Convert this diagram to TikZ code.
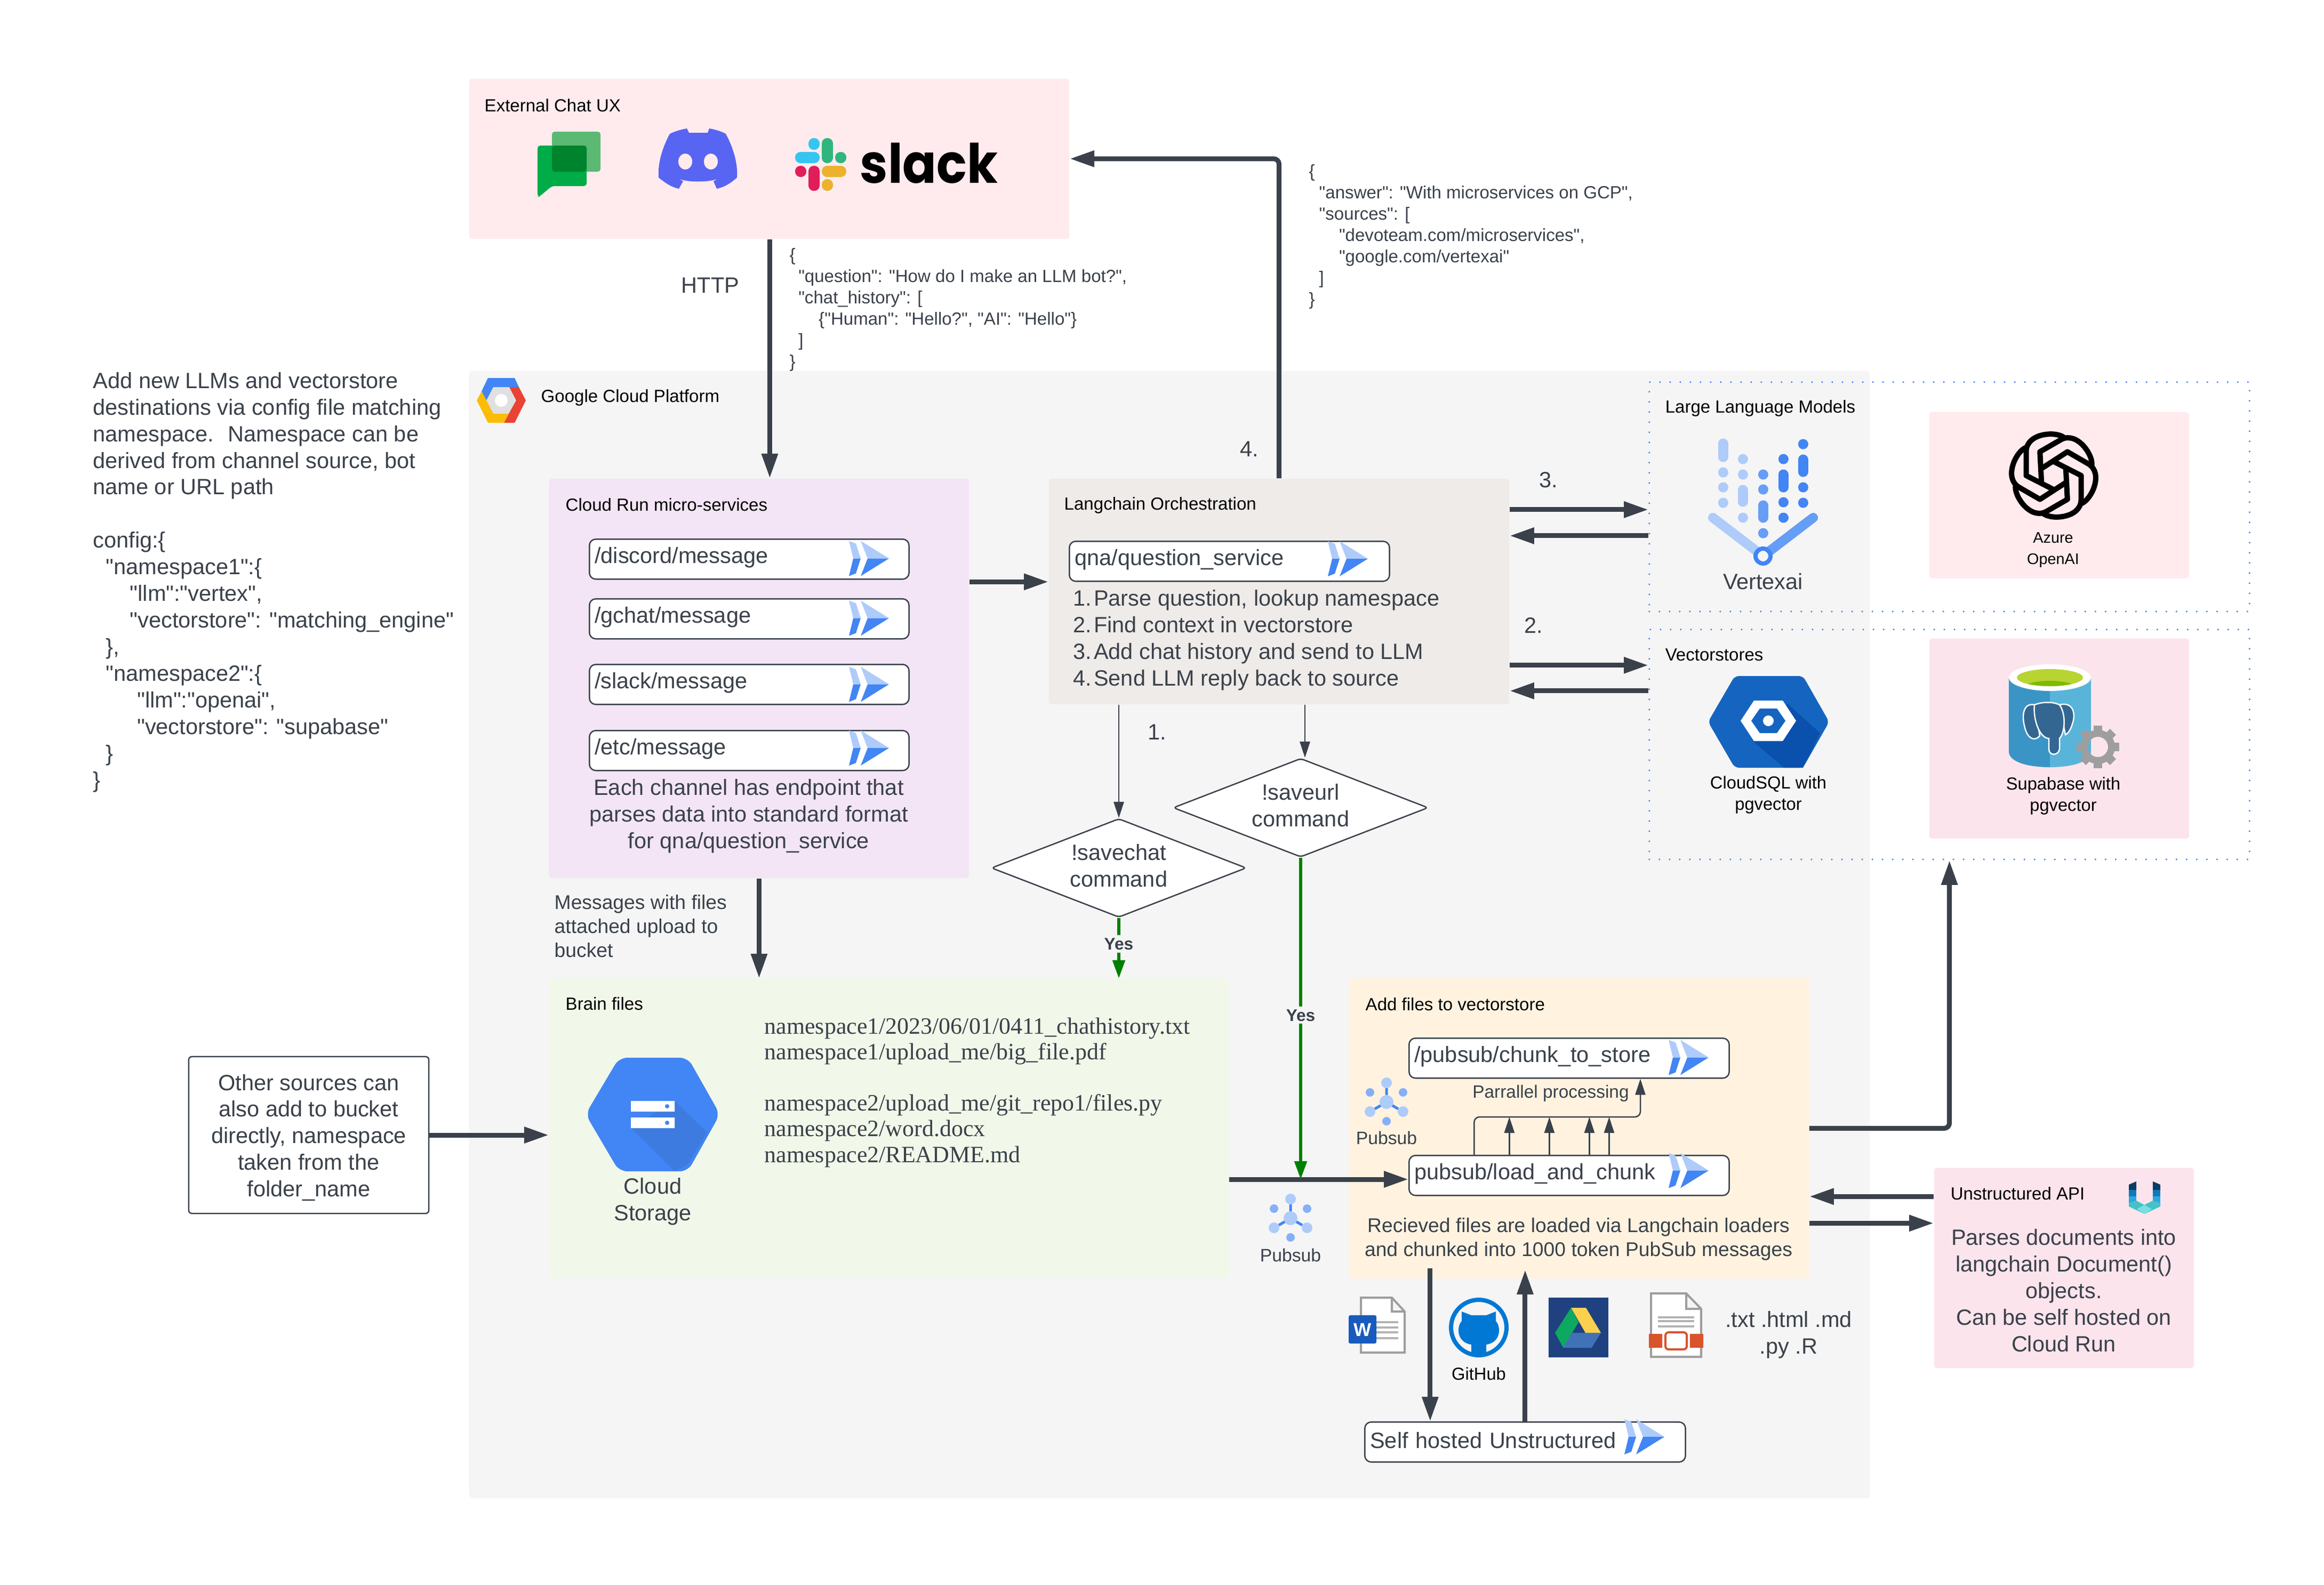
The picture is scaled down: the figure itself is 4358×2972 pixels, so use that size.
\documentclass[tikz,border=0pt]{standalone}
\usepackage{fontspec}
\setmainfont{Liberation Sans}[Ligatures=TeXOff]
\newfontfamily\pathfont{Liberation Serif}
\newfontfamily\slackfont{Poppins}
\usetikzlibrary{arrows.meta,shapes.geometric}

\definecolor{ink}{HTML}{3A414A}
\definecolor{gcpfill}{HTML}{F5F5F5}
\definecolor{chatfill}{HTML}{FFEBEE}
\definecolor{crunfill}{HTML}{F3E5F5}
\definecolor{langfill}{HTML}{EFEBE9}
\definecolor{brainfill}{HTML}{F1F8E9}
\definecolor{addfill}{HTML}{FFF3E0}
\definecolor{supafill}{HTML}{FCE4EC}
\definecolor{gblue}{HTML}{4285F4}
\definecolor{gmid}{HTML}{669DF6}
\definecolor{glight}{HTML}{AECBFA}
\definecolor{gsoft}{HTML}{85B0F8}
\definecolor{yesgreen}{HTML}{008000}
\definecolor{chatback}{HTML}{5BB974}
\definecolor{chatfront}{HTML}{00AC47}
\definecolor{chatover}{HTML}{00832D}
\definecolor{blurple}{HTML}{5865F2}
\definecolor{slackblue}{HTML}{36C5F0}
\definecolor{slackgreen}{HTML}{2EB67D}
\definecolor{slackred}{HTML}{E01E5A}
\definecolor{slackyellow}{HTML}{ECB22E}
\definecolor{gcpgray}{HTML}{E0E0E0}
\definecolor{gcpred}{HTML}{EA4335}
\definecolor{gcpyellow}{HTML}{FBBC05}
\definecolor{sqlblue}{HTML}{1565C0}
\definecolor{sqldark}{HTML}{0A50AD}
\definecolor{cyldark}{HTML}{3A95C6}
\definecolor{cyllight}{HTML}{59B4D9}
\definecolor{cyltop}{HTML}{B8D432}
\definecolor{cylinner}{HTML}{7FBA00}
\definecolor{pgblue}{HTML}{336791}
\definecolor{gearcol}{HTML}{9E9E9E}
\definecolor{storeshade}{HTML}{3D7BE0}
\definecolor{wordblue}{HTML}{185ABD}
\definecolor{ghblue}{HTML}{0078D4}
\definecolor{drivebg}{HTML}{1F4180}
\definecolor{driveyellow}{HTML}{FCD04F}
\definecolor{drivegreen}{HTML}{0DA960}
\definecolor{driveblue}{HTML}{4172B8}
\definecolor{docorange}{HTML}{D9532C}
\definecolor{unsdark}{HTML}{0A3D62}
\definecolor{unsmid}{HTML}{1279BE}
\definecolor{unssky}{HTML}{29A8E0}
\definecolor{unsteal}{HTML}{45C2C8}
\definecolor{unspale}{HTML}{7ADFE0}

\newcommand{\bodyfont}{\fontsize{11.8}{14.2}\selectfont}

\tikzset{
	panel/.style={rectangle,rounded corners=.05cm,anchor=north west,inner sep=0},
	dotbox/.style={rectangle,anchor=north west,inner sep=0,draw=gblue,line width=.035cm,line cap=round,dash pattern=on 0pt off .19cm},
	routebox/.style={rectangle,draw=ink,fill=white,line width=.025cm,rounded corners=.12cm,anchor=north west,inner xsep=.1cm,inner ysep=0,minimum height=.75cm,text=ink,align=left,font=\bodyfont,execute at end node={\vspace{.06cm}}},
	heading/.style={anchor=west,inner sep=0,text=black,font=\fontsize{9.4}{11.4}\selectfont},
	note/.style={inner sep=0,text=ink,align=center,font=\bodyfont},
	leftnote/.style={note,anchor=west,align=left},
	smallnote/.style={note,font=\fontsize{10.6}{12.8}\selectfont},
	jsontext/.style={leftnote,font=\fontsize{9.4}{11.4}\selectfont},
	iconlabel/.style={inner sep=0,text=black,align=center,font=\fontsize{9.3}{11.4}\selectfont},
	decision/.style={diamond,aspect=2.58,draw=ink,fill=white,line width=.025cm,inner sep=0,minimum width=4.78cm,minimum height=1.85cm,rounded corners=.06cm,text=ink,align=center,font=\bodyfont},
	yeslabel/.style={fill=gcpfill,inner xsep=.02cm,inner ysep=.05cm,text=ink,font=\bfseries\fontsize{9}{11}\selectfont},
	bigarrow/.style={draw=ink,line width=.09cm,rounded corners=.1cm,-{Triangle[length=.46cm,width=.29cm]}},
	thinarrow/.style={draw=ink,line width=.025cm,-{Triangle[length=.3cm,width=.19cm]}},
	greenarrow/.style={draw=yesgreen,line width=.055cm,-{Triangle[length=.34cm,width=.23cm]}},
	runicon/.pic={
		\fill[glight] (0,-33) -- (13,-28) -- (22,0) -- (8,0) -- cycle;
		\fill[gblue] (8,0) -- (22,0) -- (13,28) -- (0,33) -- cycle;
		\fill[glight] (22,-33) -- (75,0) -- (35,0) -- cycle;
		\fill[gblue] (35,0) -- (75,0) -- (22,33) -- cycle;
	},
	pubsubicon/.pic={
		\draw[gblue,line width=.05cm] (0,-26) -- (0,-13) (-22,13) -- (-10,6) (22,13) -- (10,6);
		\foreach \px/\py/\pr in {0/-36/10,0/0/13,-31/18/10,31/18/10}
			\fill[glight] (\px,\py) circle[radius=\pr];
		\foreach \px/\py in {-31/-18,31/-18,0/36}
			\fill[gsoft] (\px,\py) circle[radius=8];
	},
}

\begin{document}
\begin{tikzpicture}[x=.01cm,y=-.01cm]
	\useasboundingbox (0,0) rectangle (4358,2972);

	%Panels
	\node[panel,fill=gcpfill,minimum width=26.25cm,minimum height=21.13cm] (gcp) at (879,695) {};
	\node[panel,fill=chatfill,minimum width=11.25cm,minimum height=3cm] (extchat) at (879,147) {};
	\node[panel,fill=crunfill,minimum width=7.87cm,minimum height=7.49cm] (crun) at (1029,897) {};
	\node[panel,fill=langfill,minimum width=8.63cm,minimum height=4.23cm] (lang) at (1966,897) {};
	\node[panel,fill=brainfill,minimum width=12.74cm,minimum height=5.61cm] (brain) at (1029,1835) {};
	\node[panel,fill=addfill,minimum width=8.62cm,minimum height=5.63cm] (addfiles) at (2529,1834) {};
	\node[dotbox,minimum width=11.25cm,minimum height=4.3cm] (llmbox) at (3091,715) {};
	\node[dotbox,minimum width=11.25cm,minimum height=4.31cm] (vecbox) at (3091,1179) {};
	\node[panel,fill=chatfill,minimum width=4.87cm,minimum height=3.12cm] (azure) at (3617,772) {};
	\node[panel,fill=supafill,minimum width=4.87cm,minimum height=3.75cm] (supa) at (3617,1197) {};
	\node[panel,fill=supafill,minimum width=4.87cm,minimum height=3.75cm] (unapi) at (3626,2190) {};

	%Titles
	\node[heading] (chattitle) at (908,198) {External Chat UX};
	\node[heading] (gcptitle) at (1014,746) {Google Cloud Platform};
	\node[heading] (cruntitle) at (1060,947) {Cloud Run micro-services};
	\node[heading] (langtitle) at (1995,948) {Langchain Orchestration};
	\node[heading] (braintitle) at (1060,1883) {Brain files};
	\node[heading] (addtitle) at (2560,1884) {Add files to vectorstore};
	\node[heading] (llmtitle) at (3122,766) {Large Language Models};
	\node[heading] (vectitle) at (3122,1228) {Vectorstores};
	\node[heading] (unapititle) at (3657,2239) {Unstructured API};

	%Endpoints
	\foreach \rname/\ytop/\cy in {discord/1010/1047.5,gchat/1122/1159.5,slack/1245/1283.5,etc/1369/1403}{
		\node[routebox,minimum width=5.99cm,text width=5.79cm] (\rname) at (1104,\ytop) {/\rname/message};
		\pic at (1592,\cy) {runicon};
	}
	\node[routebox,minimum width=6cm,text width=5.8cm] (qna) at (2004,1014) {qna/question\_service};
	\pic at (2490,1048) {runicon};
	\node[routebox,minimum width=6cm,text width=5.8cm] (chunk) at (2641,1946) {/pubsub/chunk\_to\_store};
	\pic at (3129,1983.5) {runicon};
	\node[routebox,minimum width=6cm,text width=5.8cm] (load) at (2641,2166) {pubsub/load\_and\_chunk};
	\pic at (3129,2195.5) {runicon};
	\node[routebox,minimum width=6.01cm,text width=5.81cm] (selfhost) at (2558,2666) {Self hosted Unstructured};
	\pic at (3046,2695) {runicon};

	%Texts
	\node[leftnote] (confignote) at (174,1092) {Add new LLMs and vectorstore\\destinations via config file matching\\namespace.~ Namespace can be\\derived from channel source, bot\\name or URL path\\~\\config:\{\\
		\hspace*{6.9pt}"namespace1":\{\\
		\hspace*{19.7pt}"llm":"vertex",\\
		\hspace*{19.7pt}"vectorstore": "matching\_engine"\\
		\hspace*{6.9pt}\},\\
		\hspace*{6.9pt}"namespace2":\{\\
		\hspace*{23.5pt}"llm":"openai",\\
		\hspace*{23.5pt}"vectorstore": "supabase"\\
		\hspace*{6.9pt}\}\\\}};
	\node[note] (httplabel) at (1332,535) {HTTP};
	\node[jsontext] (askjson) at (1480,581) {\{\\
		\hspace*{4.7pt}"question": "How do I make an LLM bot?",\\
		\hspace*{4.7pt}"chat\_history": [\\
		\hspace*{15.5pt}\{"Human": "Hello?", "AI": "Hello"\}\\
		\hspace*{4.7pt}]\\\}};
	\node[jsontext] (answerjson) at (2454,444) {\{\\
		\hspace*{5.4pt}"answer": "With microservices on GCP",\\
		\hspace*{5.4pt}"sources": [\\
		\hspace*{16pt}"devoteam.com/microservices",\\
		\hspace*{16pt}"google.com/vertexai"\\
		\hspace*{5.4pt}]\\\}};
	\node[note] (crunnote) at (1404,1531) {Each channel has endpoint that\\parses data into standard format\\for qna/question\_service};
	\node[leftnote] (langnote) at (2012,1201) {1.\hspace{1.1pt}Parse question, lookup namespace\\2.\hspace{1.1pt}Find context in vectorstore\\3.\hspace{1.1pt}Add chat history and send to LLM\\4.\hspace{1.1pt}Send LLM reply back to source};
	\node[smallnote,anchor=west,align=left] (msgnote) at (1039,1737) {Messages with files\\attached upload to\\bucket};
	\node[smallnote] (addnote) at (2960,2324) {Recieved files are loaded via Langchain loaders\\and chunked into 1000 token PubSub messages};
	\node[note,font=\fontsize{9.5}{12}\selectfont] (parallel) at (2908,2051) {Parrallel processing};
	\node[note] (extnote) at (3354,2504) {.txt .html .md\\.py .R};
	\node[note] (unapinote) at (3870,2421) {Parses documents into\\langchain Document()\\objects.\\Can be self hosted on\\Cloud Run};
	\node[leftnote,font=\pathfont\fontsize{12.5}{13.7}\selectfont] (filelist) at (1433,2049) {namespace1/2023/06/01/0411\_chathistory.txt\\namespace1/upload\_me/big\_file.pdf\\~\\namespace2/upload\_me/git\_repo1/files.py\\namespace2/word.docx\\namespace2/README.md};
	\node[rectangle,draw=ink,fill=white,line width=.025cm,rounded corners=.06cm,minimum width=4.5cm,minimum height=2.94cm,inner sep=0,text=ink,align=center,font=\bodyfont] (other) at (579,2129) {\rule{0pt}{.4cm}Other sources can\\also add to bucket\\directly, namespace\\taken from the\\folder\_name};

	%Decisions
	\node[decision] (chatdec) at (2098,1628) {!savechat\\command\\[-.4cm]\mbox{}};
	\node[decision] (urldec) at (2439,1515) {!saveurl\\command\\[-.4cm]\mbox{}};

	%Connectors
	\coordinate (feed) at (2439,2212);
	\coordinate (busend) at (3076,2095);
	\draw[bigarrow] ([xshift=.2cm]crun.north |- extchat.south) -- ([xshift=.2cm]crun.north);
	\draw[bigarrow] (lang.north) |- (extchat.east);
	\draw[bigarrow] ([yshift=.18cm]crun.east |- lang.west) -- ([yshift=.18cm]lang.west);
	\draw[bigarrow] ([yshift=-.24cm]llmbox.west -| lang.east) -- ([yshift=-.24cm]llmbox.west);
	\draw[bigarrow] ([yshift=-.73cm]llmbox.west) -- ([yshift=-.73cm]llmbox.west -| lang.east);
	\draw[bigarrow] ([yshift=1.485cm]vecbox.west -| lang.east) -- ([yshift=1.485cm]vecbox.west);
	\draw[bigarrow] ([yshift=1.005cm]vecbox.west) -- ([yshift=1.005cm]vecbox.west -| lang.east);
	\draw[bigarrow] (crun.south) -- (crun.south |- brain.north);
	\draw[bigarrow] (other.east) -- (brain.west |- other.east);
	\draw[bigarrow] (brain.east |- feed) -- (load.west |- feed);
	\draw[bigarrow] (addfiles.east) -| (vecbox.south);
	\draw[bigarrow] ([yshift=1.34cm]unapi.west) -- ([yshift=1.34cm]unapi.west -| addfiles.east);
	\draw[bigarrow] ([yshift=.84cm]unapi.west -| addfiles.east) -- ([yshift=.84cm]unapi.west);
	\draw[bigarrow] ([xshift=-1.78cm,yshift=.2cm]selfhost.north |- addfiles.south) -- ([xshift=-1.78cm]selfhost.north);
	\draw[bigarrow] (selfhost.north) -- ([yshift=.17cm]selfhost.north |- addfiles.south);
	\draw[thinarrow] (chatdec.north |- lang.south) -- (chatdec.north);
	\draw[thinarrow] ([xshift=.08cm]urldec.north |- lang.south) -- ([xshift=.08cm]urldec.north);
	\draw[greenarrow] (chatdec.south) -- node[yeslabel,pos=.43] (chatyes) {Yes} (chatdec.south |- brain.north);
	\draw[greenarrow] (urldec.south) -- node[yeslabel,pos=.49] (urlyes) {Yes} (feed);
	\foreach \off in {-1.12,-.37,.38,.75}
		\draw[thinarrow] ([xshift=\off cm]load.north) -- ([xshift=\off cm]load.north |- busend);
	\draw[thinarrow,rounded corners=.1cm] ([xshift=-1.78cm]load.north) |- (busend) -- (busend |- chunk.south);

	%Numbers
	\node[note] (stepone) at (2170,1373) {1.};
	\node[note] (steptwo) at (2876,1173) {2.};
	\node[note] (stepthree) at (2904,900) {3.};
	\node[note] (stepfour) at (2343,842) {4.};

	%Google Chat
	\fill[chatback,rounded corners=.05cm] (1035,247) rectangle (1126,322);
	\fill[chatfront,rounded corners=.05cm] (1008,273) -- (1100,273) -- (1100,349) -- (1035,349) -- (1011,369) -- (1008,369) -- cycle;
	\fill[chatover,rounded corners=.05cm] (1035,273) rectangle (1100,322);

	%Discord
	\begin{scope}[shift={(1309,297)}]
		\fill[blurple] (-21,-56) -- (-17,-48) -- (18,-48) -- (21,-56) .. controls (33,-54) and (45,-50) .. (52,-46) .. controls (66,-20) and (75,10) .. (73,36) .. controls (62,46) and (50,54) .. (35,57) -- (29,43) -- (41,36) .. controls (28,46) and (-28,46) .. (-40,36) -- (-28,43) -- (-36,57) .. controls (-50,54) and (-62,46) .. (-74,36) .. controls (-76,10) and (-67,-20) .. (-53,-46) .. controls (-45,-50) and (-33,-54) .. (-21,-56) -- cycle;
		\fill[chatfill] (-24,6) ellipse[x radius=13,y radius=15] (24,6) ellipse[x radius=13,y radius=15];
	\end{scope}

	%Slack
	\begin{scope}[rounded corners=.1cm]
		\fill[slackblue] (1516,259) rectangle (1537,281) (1491,285) rectangle (1537,306);
		\fill[slackgreen] (1541,259) rectangle (1562,306) (1566,285) rectangle (1587,306);
		\fill[slackred] (1491,311) rectangle (1512,332) (1516,311) rectangle (1537,358);
		\fill[slackyellow] (1541,311) rectangle (1587,332) (1541,336) rectangle (1562,358);
	\end{scope}
	\node[anchor=base west,inner sep=0,text=black] (slackword) at (1612,343) {\scalebox{.92}[1]{\slackfont\bfseries\fontsize{29}{29}\selectfont slack}};

	%GCP logo
	\begin{scope}[shift={(940,751)}]
		\fill[gcpgray] (-28,0) -- (-15,-25) -- (15,-25) -- (28,0) -- (14,25) -- (-15,25) -- cycle;
		\fill[white] (0,0) circle[radius=12];
		\fill[gblue] (-25,-42) -- (25,-42) -- (33,-25) -- (-15,-25) -- (-28,0) -- (-37,-17) -- cycle;
		\fill[gcpred] (15,-25) -- (33,-25) -- (46,0) -- (25,42) -- (5,42) -- (14,25) -- (28,0) -- cycle;
		\fill[gcpyellow] (-37,-17) -- (-28,0) -- (-15,25) -- (14,25) -- (5,42) -- (-25,42) -- (-46,0) -- cycle;
	\end{scope}

	%Vertexai
	\foreach \cx/\ya/\yb/\col in {3231/832/857/glight,3231/886/886/glight,3231/914/914/glight,3231/943/943/glight,
		3268/861/861/glight,3268/890/890/glight,3268/919/941/glight,3268/971/971/glight,
		3306/890/890/gmid,3306/918/918/gmid,3306/948/971/gmid,3306/1000/1000/gmid,
		3344/861/861/gblue,3344/890/914/gblue,3344/942/942/gblue,3344/971/971/gblue,
		3381/833/833/gblue,3381/862/885/gblue,3381/914/914/gblue,3381/943/943/gblue}
		\draw[\col,line width=.19cm,line cap=round] (\cx,\ya) -- (\cx,\yb+.1);
	\draw[glight,line width=.18cm,line cap=round] (3212,971) -- (3306,1043);
	\draw[gmid,line width=.18cm,line cap=round] (3400,971) -- (3306,1043);
	\draw[gblue,fill=gcpfill,line width=.08cm] (3306,1043) circle[radius=14];
	\node[note] (vertexlabel) at (3306,1091) {Vertexai};

	%OpenAI
	\foreach \a in {0,60,...,300}
		\draw[black,line width=.1cm,line join=round,shift={(3851,892)},rotate=\a,scale=1.12] (18,-63) .. controls (6,-75) and (-46,-72) .. (-46,-40) -- (-46,0) -- (1,24);
	\node[iconlabel,font=\fontsize{8.2}{11.4}\selectfont] (azurelabel) at (3850,1032) {Azure\\OpenAI};

	%CloudSQL
	\fill[sqlblue,rounded corners=.08cm] (3253,1268) -- (3381,1268) -- (3430,1354) -- (3381,1440) -- (3253,1440) -- (3203,1354) -- cycle;
	\fill[sqldark] (3352,1320) -- (3413,1375) -- (3381,1440) -- (3345,1440) -- (3287,1390) -- cycle;
	\begin{scope}[shift={(3316,1352)}]
		\fill[white] (-52,0) -- (-27,-38) -- (27,-38) -- (52,0) -- (27,38) -- (-27,38) -- cycle;
		\fill[sqlblue] (-32,0) -- (-16,-23) -- (16,-23) -- (32,0) -- (16,23) -- (-16,23) -- cycle;
		\fill[white] (0,0) circle[radius=10];
	\end{scope}
	\node[iconlabel] (sqllabel) at (3316,1491) {CloudSQL with\\pgvector};

	%Supabase
	\fill[cyldark] (3767,1271) -- (3844,1271) -- (3844,1439) .. controls (3800,1439) and (3767,1428) .. (3767,1410) -- cycle;
	\fill[cyllight] (3844,1271) -- (3921,1271) -- (3921,1410) .. controls (3921,1428) and (3888,1439) .. (3844,1439) -- cycle;
	\fill[white] (3844,1271) ellipse[x radius=77,y radius=25];
	\fill[cyltop] (3844,1271) ellipse[x radius=62,y radius=16];
	\begin{scope}
		\clip (3844,1271) ellipse[x radius=62,y radius=16];
		\fill[cylinner] (3844,1291) ellipse[x radius=50,y radius=14];
	\end{scope}
	\draw[white,fill=pgblue,line width=.025cm] (3815,1322) .. controls (3795,1318) and (3790,1340) .. (3797,1365) .. controls (3802,1385) and (3815,1392) .. (3825,1380) -- cycle;
	\draw[white,fill=pgblue,line width=.025cm] (3862,1322) .. controls (3885,1316) and (3893,1335) .. (3887,1355) .. controls (3884,1365) and (3880,1375) .. (3873,1378) -- cycle;
	\draw[white,fill=pgblue,line width=.025cm] (3815,1322) .. controls (3830,1316) and (3850,1316) .. (3862,1322) .. controls (3875,1340) and (3872,1375) .. (3862,1385) -- (3862,1405) .. controls (3860,1418) and (3842,1418) .. (3842,1405) -- (3842,1385) .. controls (3825,1385) and (3812,1350) .. (3815,1322) -- cycle;
	\foreach \a in {0,45,...,315}
		\draw[gearcol,line width=.16cm,shift={(3934,1401)},rotate=\a] (0,-24) -- (0,-40);
	\fill[gearcol,even odd rule] (3934,1401) circle[radius=32] (3934,1401) circle[radius=19];
	\node[iconlabel] (supalabel) at (3869,1493) {Supabase with\\pgvector};

	%Cloud Storage
	\fill[gblue,rounded corners=.15cm] (1161,1984) -- (1290,1984) -- (1350,2090) -- (1290,2197) -- (1161,2197) -- (1098,2090) -- cycle;
	\fill[storeshade] (1265,2065) -- (1326,2124) -- (1290,2184) -- (1265,2197) -- (1183,2115) -- cycle;
	\fill[white] (1183,2065) rectangle (1265,2085) (1183,2096) rectangle (1265,2116);
	\fill[gblue] (1251,2075) circle[radius=4] (1251,2106) circle[radius=4];
	\node[note] (storagelabel) at (1224,2254) {Cloud\\Storage};

	%Pubsub
	\pic at (2600,2067) {pubsubicon};
	\node[note,font=\fontsize{9.6}{11}\selectfont] (pubsublabel) at (2600,2134) {Pubsub};
	\pic at (2420,2285) {pubsubicon};
	\node[note,font=\fontsize{9.6}{11}\selectfont] (outerlabel) at (2420,2354) {Pubsub};

	%Word
	\draw[gearcol,fill=white,line width=.04cm] (2552,2434) -- (2610,2434) -- (2634,2460) -- (2634,2537) -- (2552,2537) -- cycle (2610,2434) -- (2610,2460) -- (2634,2460);
	\foreach \ly in {2480,2490,2499,2510}
		\draw[gcpgray!80!black,line width=.04cm] (2581,\ly) -- (2622,\ly);
	\fill[wordblue,rounded corners=.03cm] (2529,2467) rectangle (2581,2520);
	\node[inner sep=0,text=white,font=\bfseries\fontsize{10}{11}\selectfont] (wordw) at (2555,2494) {W};

	%GitHub
	\begin{scope}[shift={(2773,2490)}]
		\draw[ghblue,line width=.08cm] (0,0) circle[radius=52];
		\fill[ghblue] (-14,50) -- (-14,32) .. controls (-30,30) and (-38,18) .. (-38,6) .. controls (-38,-2) and (-36,-8) .. (-32,-12) -- (-32,-30) -- (-14,-23) -- (14,-23) -- (32,-30) -- (32,-12) .. controls (36,-8) and (38,-2) .. (38,6) .. controls (38,18) and (30,30) .. (14,32) -- (14,50) -- cycle;
	\end{scope}
	\node[iconlabel] (ghlabel) at (2773,2577) {GitHub};

	%Drive
	\fill[drivebg] (2904,2434) rectangle (3016,2546);
	\fill[driveyellow] (2946,2453) -- (2974,2453) -- (3002,2500) -- (2973,2500) -- cycle;
	\fill[drivegreen] (2946,2453) -- (2916,2500) -- (2931.5,2528) -- (2960,2480) -- cycle;
	\fill[driveblue] (2947,2500) -- (3002,2500) -- (2984.5,2528) -- (2931.5,2528) -- cycle;

	%Text file
	\draw[gearcol,fill=white,line width=.04cm] (3096,2426) -- (3162,2426) -- (3190,2455) -- (3190,2545) -- (3096,2545) -- cycle (3162,2426) -- (3162,2455) -- (3190,2455);
	\foreach \ly in {2470.5,2478,2488}
		\draw[gcpgray!80!black,line width=.04cm] (3109,\ly) -- (3177,\ly);
	\fill[docorange] (3092,2502) rectangle (3117,2528) (3169,2502) rectangle (3194,2528);
	\draw[docorange,fill=white,line width=.04cm,rounded corners=.06cm] (3123,2499) rectangle (3163,2531);

	%Unstructured
	\foreach \xa/\xb in {3992/4006,4051/4037}{
		\fill[unsdark] (\xa,2222) -- (\xb,2216) -- (\xb,2232) -- (\xa,2232) -- cycle;
		\fill[unsmid] (\xa,2232) rectangle (\xb,2244);
		\fill[unssky] (\xa,2244) rectangle (\xb,2256);
	}
	\fill[unsteal] (3992,2256) -- (4006,2252) -- (4021,2260) -- (4037,2252) -- (4051,2256) -- (4051,2263) -- (4021,2277) -- (3992,2263) -- cycle;
	\fill[unspale] (4021,2260) -- (4035,2268) -- (4021,2277) -- (4007,2268) -- cycle;
\end{tikzpicture}
\end{document}
